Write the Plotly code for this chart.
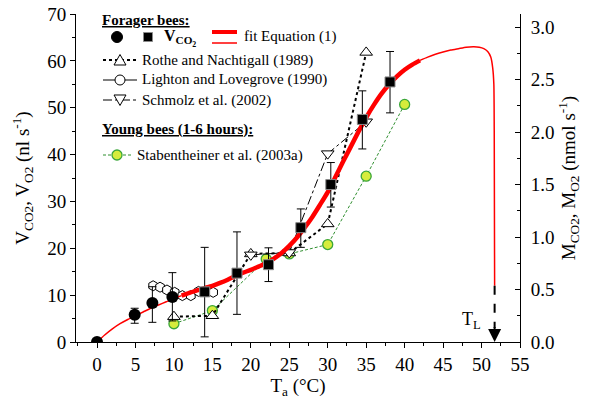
import plotly.graph_objects as go

# ---------------- data ----------------
# Forager bees, own data (V_CO2): circles and squares with error bars
circ_T = [0, 4.9, 7.2, 9.8]
circ_V = [0, 5.8, 8.3, 9.6]
circ_hi = [None, 7.2, 11.8, 14.8]
circ_lo = [None, 4.0, 4.2, 4.5]

sq_T = [14.0, 18.2, 22.3, 26.5, 30.4, 34.5, 38.1]
sq_V = [10.7, 14.7, 16.5, 24.4, 33.6, 47.5, 55.5]
sq_hi = [20.2, 23.5, 20.1, 28.4, 38.3, 53.6, 62.0]
sq_lo = [1.1, 5.9, 12.9, 20.2, 28.8, 41.2, 48.9]

# Rothe and Nachtigall (1989)
rothe_T = [10, 15, 20, 25, 30, 35]
rothe_V = [5.4, 5.6, 18.8, 19.0, 25.2, 61.8]

# Lighton and Lovegrove (1990)
light_T = [7.3, 8.2, 9.1, 10.1, 11.1, 12.2, 13.2, 14.3, 15.1]
light_V = [12.0, 11.7, 11.1, 10.6, 9.9, 9.9, 10.8, 10.8, 10.6]

# Schmolz et al. (2002)
schm_T = [20, 25, 30, 35]
schm_V = [18.6, 19.1, 40.2, 47.0]

# Stabentheiner et al. (2003a), young bees
stab_T = [10, 15, 22, 25, 30, 35, 40]
stab_V = [3.9, 6.7, 17.7, 18.8, 20.8, 35.4, 50.7]

# fit Equation (1)
fit_T = [0, 1, 2, 3, 4, 5, 6, 7, 8, 9, 10, 10.5, 11, 12, 13, 14, 15, 16, 17, 18, 19, 20,
         21, 22, 23, 24, 25, 26, 27, 28, 29, 30, 31, 32, 33, 34, 35, 36, 37, 38, 39, 40,
         41, 42, 43, 44, 45, 46, 47, 48, 49, 49.7, 50.3, 50.8, 51.2, 51.45, 51.6, 51.65, 51.7]
fit_V = [0, 1.5, 2.8, 3.9, 4.8, 5.6, 6.4, 7.2, 7.9, 8.6, 9.3, 9.6, 9.9, 10.5, 11.0, 11.5, 12.0,
         12.6, 13.3, 14.1, 14.8, 15.4, 16.1, 16.8, 17.8, 19.0, 20.5, 22.3, 24.4, 26.7, 29.3,
         32.0, 35.2, 38.5, 41.7, 44.9, 47.9, 50.6, 53.0, 55.0, 56.7, 58.1, 59.2, 60.1, 60.8,
         61.4, 61.9, 62.3, 62.6, 62.9, 63.0, 62.9, 62.6, 62.0, 60.8, 58.5, 55.0, 45.0, 12.0]
thick_from, thick_to = 11, 42   # temperature range drawn with the thick line

T_L = 51.7                       # lethal temperature
arrow_top = 12.0

NL_PER_NMOL = 22.4
Y_MAX = 70

FONT = "Liberation Serif"

fig = go.Figure()

# ---------- literature series ----------
fig.add_trace(go.Scatter(x=stab_T, y=stab_V, mode="lines+markers",
                         line=dict(color="#2f8f2f", width=1, dash="3px,2px"),
                         marker=dict(symbol="circle", size=10, color="#d6ec3c",
                                     line=dict(color="#3aa63a", width=1.3)),
                         showlegend=False))
fig.add_trace(go.Scatter(x=rothe_T, y=rothe_V, mode="lines+markers",
                         line=dict(color="black", width=2, dash="dot"),
                         marker=dict(symbol="triangle-up", size=11, color="white",
                                     line=dict(color="black", width=1)),
                         showlegend=False))
fig.add_trace(go.Scatter(x=schm_T, y=schm_V, mode="lines+markers",
                         line=dict(color="black", width=1, dash="dashdot"),
                         marker=dict(symbol="triangle-down", size=11, color="white",
                                     line=dict(color="black", width=1)),
                         showlegend=False))
fig.add_trace(go.Scatter(x=light_T, y=light_V, mode="lines+markers",
                         line=dict(color="black", width=1),
                         marker=dict(symbol="hexagon", size=10, color="white",
                                     line=dict(color="black", width=1)),
                         showlegend=False))

# ---------- fit curve ----------
def seg(lo, hi):
    xs, ys = [], []
    for t, v in zip(fit_T, fit_V):
        if lo <= t <= hi:
            xs.append(t)
            ys.append(v)
    return xs, ys

for lo, hi, w in [(0, thick_from, 1.5), (thick_from, thick_to, 4.5), (thick_to, 60, 1.5)]:
    xs, ys = seg(lo, hi)
    fig.add_trace(go.Scatter(x=xs, y=ys, mode="lines",
                             line=dict(color="#ff0000", width=w, shape="spline", smoothing=0.6),
                             showlegend=False, hoverinfo="skip"))

# ---------- own data ----------
def err(hi, lo, v):
    up = [0 if h is None else h - y for h, y in zip(hi, v)]
    dn = [0 if l is None else y - l for l, y in zip(lo, v)]
    return up, dn

cu, cd = err(circ_hi, circ_lo, circ_V)
fig.add_trace(go.Scatter(x=circ_T, y=circ_V, mode="markers",
                         marker=dict(symbol="circle", size=12, color="black"),
                         error_y=dict(type="data", symmetric=False, array=cu, arrayminus=cd,
                                      color="black", thickness=1, width=4),
                         showlegend=False))
su, sd = err(sq_hi, sq_lo, sq_V)
fig.add_trace(go.Scatter(x=sq_T, y=sq_V, mode="markers",
                         marker=dict(symbol="square", size=10, color="black",
                                     line=dict(color="#8a8a8a", width=1)),
                         error_y=dict(type="data", symmetric=False, array=su, arrayminus=sd,
                                      color="black", thickness=1, width=4),
                         showlegend=False))

# empty trace on secondary axis
fig.add_trace(go.Scatter(x=[], y=[], yaxis="y2", showlegend=False))

# ---------- T_L arrow ----------
fig.add_shape(type="line", xref="x", yref="y", x0=T_L, x1=T_L, y0=arrow_top, y1=3,
              line=dict(color="black", width=2, dash="dash"))
fig.add_annotation(x=T_L, y=0, xref="x", yref="y", ax=T_L, ay=3.5, axref="x", ayref="y",
                   showarrow=True, arrowhead=2, arrowsize=1.3, arrowwidth=2, arrowcolor="black",
                   text="")
fig.add_annotation(x=T_L - 3.0, y=4.5, xref="x", yref="y", text="T<sub>L</sub>",
                   showarrow=False, font=dict(family=FONT, size=18, color="black"))

# ---------- custom legend ----------
L, R, TOP, BOT = 76, 520, 14, 342
def px(x):
    return (x - L) / (R - L)
def py(y):
    return (BOT - y) / (BOT - TOP)

def text(x, y, s, size=14):
    fig.add_annotation(x=px(x), y=py(y), xref="paper", yref="paper", text=s,
                       showarrow=False, xanchor="left", yanchor="middle",
                       font=dict(family=FONT, size=size, color="black"))

def hline(x0, x1, y, color, width, dash="solid"):
    fig.add_shape(type="line", xref="paper", yref="paper", x0=px(x0), x1=px(x1),
                  y0=py(y), y1=py(y), line=dict(color=color, width=width, dash=dash))

def circle(x, y, r, fill, lc, lw=1):
    fig.add_shape(type="circle", xref="paper", yref="paper", x0=px(x - r), x1=px(x + r),
                  y0=py(y + r), y1=py(y - r), fillcolor=fill, line=dict(color=lc, width=lw))

def poly(pts, fill="white"):
    path = "M " + " L ".join(f"{px(a):.5f},{py(b):.5f}" for a, b in pts) + " Z"
    fig.add_shape(type="path", xref="paper", yref="paper", path=path, fillcolor=fill,
                  line=dict(color="black", width=1))

text(100, 20, "<b><u>Forager bees:</u></b>", 15)
circle(117, 37, 5.5, "black", "black")
fig.add_shape(type="rect", xref="paper", yref="paper", x0=px(143.5), x1=px(152.5),
              y0=py(41.5), y1=py(32.5), fillcolor="black", line=dict(color="#8a8a8a", width=1))
text(162, 38, "<b>V<sub>CO<sub>2</sub></sub></b>", 16)
hline(212, 237, 32, "#ff0000", 4)
hline(212, 237, 43, "#ff0000", 1.5)
text(242, 37, "fit Equation (1)", 15)

hline(103, 137, 60, "black", 2, "dot")
poly([(120, 54.5), (114, 65), (126, 65)])
text(140, 60, "Rothe and Nachtigall (1989)", 15)

hline(103, 137, 80, "black", 1)
circle(120, 80, 5, "white", "black")
text(140, 80, "Lighton and Lovegrove (1990)", 15)

hline(103, 137, 100, "black", 1, "dashdot")
poly([(114, 95), (126, 95), (120, 105.5)])
text(140, 100, "Schmolz et al. (2002)", 15)

text(100, 129, "<b><u>Young bees (1-6 hours):</u></b>", 15)
hline(103, 131, 155, "#2f8f2f", 1, "3px,2px")
circle(117, 155, 5, "#d6ec3c", "#3aa63a", 1.3)
text(135, 155, "Stabentheiner et al. (2003a)", 15)

# ---------- axes ----------
axis_font = dict(family=FONT, size=19, color="black")
fig.update_layout(
    width=600, height=408,
    margin=dict(l=L, r=600 - R, t=TOP, b=408 - BOT, autoexpand=False),
    paper_bgcolor="white", plot_bgcolor="white",
    showlegend=False,
    font=dict(family=FONT, size=19, color="black"),
    xaxis=dict(range=[-2.73, 55], tick0=0, dtick=5, ticks="outside", ticklen=5,
               tickwidth=1, tickcolor="black", showline=True, linecolor="black",
               linewidth=1, showgrid=False, zeroline=False, tickfont=axis_font,
               automargin=False,
               minor=dict(dtick=2.5, tick0=0, ticks="outside", ticklen=3, tickcolor="black"),
               title=dict(text="T<sub>a</sub> (°C)", font=axis_font, standoff=4)),
    yaxis=dict(range=[0, Y_MAX], dtick=10, ticks="outside", ticklen=5, tickwidth=1,
               tickcolor="black", showline=True, linecolor="black", linewidth=1,
               showgrid=False, zeroline=False, tickfont=axis_font, automargin=False,
               minor=dict(dtick=5, ticks="outside", ticklen=3, tickcolor="black"),
               title=dict(text="V<sub>CO2</sub>, V<sub>O2</sub> (nl s<sup>-1</sup>)",
                          font=axis_font, standoff=12)),
    yaxis2=dict(range=[0, Y_MAX / NL_PER_NMOL], overlaying="y", side="right", anchor="x",
                dtick=0.5, tickformat=".1f", ticks="inside", ticklen=5, tickwidth=1,
                tickcolor="black", showline=True, linecolor="black", linewidth=1,
                showgrid=False, zeroline=False, tickfont=axis_font, ticklabelstandoff=6,
                automargin=False,
                minor=dict(dtick=0.25, ticks="inside", ticklen=3, tickcolor="black"),
                title=dict(text="M<sub>CO2</sub>, M<sub>O2</sub> (nmol s<sup>-1</sup>)",
                           font=axis_font, standoff=8)),
)

fig.write_html("out.html", config={"displayModeBar": False},
               post_script="document.body.style.margin='0px';")
